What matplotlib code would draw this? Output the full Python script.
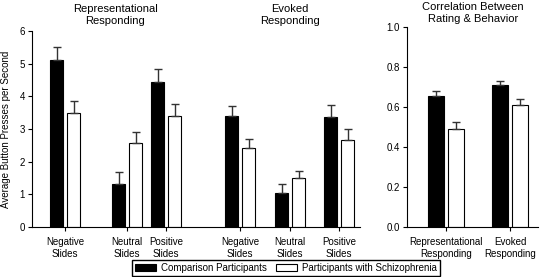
import matplotlib
matplotlib.use("Agg")
import matplotlib.pyplot as plt
from matplotlib.patches import Patch

plt.rcParams['font.family'] = ['Liberation Sans', 'DejaVu Sans']

# ---- data ----
slide_labels = ["Negative\nSlides", "Neutral\nSlides", "Positive\nSlides",
                "Negative\nSlides", "Neutral\nSlides", "Positive\nSlides"]
comp_press = [5.12, 1.31, 4.44, 3.40, 1.03, 3.36]
comp_press_err = [0.40, 0.37, 0.39, 0.31, 0.28, 0.36]
schz_press = [3.50, 2.58, 3.41, 2.41, 1.50, 2.66]
schz_press_err = [0.35, 0.33, 0.35, 0.28, 0.22, 0.33]

corr_labels = ["Representational\nResponding", "Evoked\nResponding"]
comp_corr = [0.655, 0.712]
comp_corr_err = [0.023, 0.018]
schz_corr = [0.489, 0.612]
schz_corr_err = [0.038, 0.030]

series_names = ["Comparison Participants", "Participants with Schizophrenia"]

# ---- layout ----
W, H = 542, 277
fig = plt.figure(figsize=(W / 100, H / 100), dpi=100)
FS = 7.0
TFS = 8.0

left_pos = [65, 127, 166, 240, 290, 339]   # group centres
bw = 13.5
off = 8.5
axL = fig.add_axes([32 / W, (H - 227) / H, (360 - 32) / W, 196 / H])
axL.set_xlim(32, 360)
axL.set_ylim(0, 6)

ecol = '#333333'
for i, x in enumerate(left_pos):
    axL.bar(x - off, comp_press[i], width=bw, color='black', edgecolor='black', lw=0.8)
    axL.bar(x + off, schz_press[i], width=bw, color='white', edgecolor='black', lw=0.8)
    axL.errorbar(x - off, comp_press[i], yerr=[[0], [comp_press_err[i]]], fmt='none',
                 ecolor=ecol, elinewidth=1.0, capsize=3, capthick=1.0)
    axL.errorbar(x + off, schz_press[i], yerr=[[0], [schz_press_err[i]]], fmt='none',
                 ecolor=ecol, elinewidth=1.0, capsize=3, capthick=1.0)

axL.set_xticks(left_pos)
axL.set_xticklabels(slide_labels, fontsize=FS, linespacing=1.3)
axL.set_yticks(range(0, 7))
axL.tick_params(axis='y', labelsize=FS, length=3, width=0.8, pad=2)
axL.tick_params(axis='x', length=3, width=0.8, pad=4)
axL.set_ylabel("Average Button Presses per Second", fontsize=FS, labelpad=6)
for s in ['top', 'right']:
    axL.spines[s].set_visible(False)
for s in ['left', 'bottom']:
    axL.spines[s].set_linewidth(0.8)

axL.text(115, 6.15, "Representational\nResponding", ha='center', va='bottom',
         fontsize=TFS, linespacing=1.3)
axL.text(290, 6.15, "Evoked\nResponding", ha='center', va='bottom',
         fontsize=TFS, linespacing=1.3)

# right panel
right_pos = [446, 510]
rbw = 16
roff = 10
axR = fig.add_axes([407 / W, (H - 227) / H, (538 - 407) / W, 200 / H])
axR.set_xlim(407, 538)
axR.set_ylim(0, 1.0)
for i, x in enumerate(right_pos):
    axR.bar(x - roff, comp_corr[i], width=rbw, color='black', edgecolor='black', lw=0.8)
    axR.bar(x + roff, schz_corr[i], width=rbw, color='white', edgecolor='black', lw=0.8)
    axR.errorbar(x - roff, comp_corr[i], yerr=[[0], [comp_corr_err[i]]], fmt='none',
                 ecolor=ecol, elinewidth=1.0, capsize=3, capthick=1.0)
    axR.errorbar(x + roff, schz_corr[i], yerr=[[0], [schz_corr_err[i]]], fmt='none',
                 ecolor=ecol, elinewidth=1.0, capsize=3, capthick=1.0)
axR.set_xticks(right_pos)
axR.set_xticklabels(corr_labels, fontsize=FS, linespacing=1.3)
axR.set_yticks([0.0, 0.2, 0.4, 0.6, 0.8, 1.0])
axR.set_yticklabels(["0.0", "0.2", "0.4", "0.6", "0.8", "1.0"])
axR.tick_params(axis='y', labelsize=FS, length=3, width=0.8, pad=2)
axR.tick_params(axis='x', length=3, width=0.8, pad=4)
for s in ['top', 'right']:
    axR.spines[s].set_visible(False)
for s in ['left', 'bottom']:
    axR.spines[s].set_linewidth(0.8)
axR.text(473, 1.015, "Correlation Between\nRating & Behavior", ha='center', va='bottom',
         fontsize=TFS, linespacing=1.3)

handles = [Patch(facecolor='black', edgecolor='black', lw=0.8),
           Patch(facecolor='white', edgecolor='black', lw=0.8)]
fig.legend(handles, series_names, loc='lower center', ncol=2, fontsize=FS,
           bbox_to_anchor=(286 / W, 0.0), frameon=True, fancybox=False,
           edgecolor='black', framealpha=1, handlelength=2.15, handleheight=0.7,
           borderpad=0.3, borderaxespad=0.1, columnspacing=1.0, handletextpad=0.5)

fig.savefig("out.png", dpi=100)
